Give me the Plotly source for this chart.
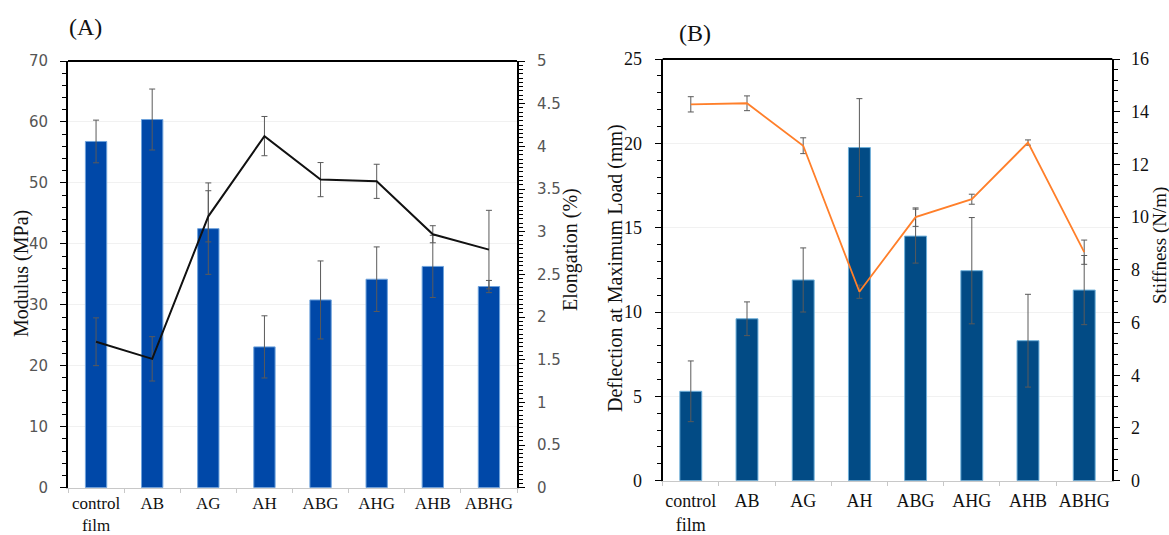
import plotly.graph_objects as go

# Sample groups shared by both panels
categories = ["control<br>film", "AB", "AG", "AH", "ABG", "AHG", "AHB", "ABHG"]

# Panel (A): tensile modulus (bars, left axis) and elongation (line, right axis)
modulus = [56.8, 60.4, 42.5, 23.1, 30.8, 34.2, 36.3, 33.0]
modulus_err = [3.5, 5.0, 7.5, 5.1, 6.4, 5.3, 5.1, 1.0]
elongation = [1.71, 1.51, 3.18, 4.12, 3.61, 3.59, 2.97, 2.79]
elongation_err = [0.28, 0.26, 0.30, 0.23, 0.20, 0.20, 0.10, 0.46]

# Panel (B): deflection at maximum load (bars, left axis) and stiffness (line, right axis)
deflection = [5.3, 9.6, 11.9, 19.75, 14.5, 12.45, 8.3, 11.3]
deflection_err = [1.8, 1.0, 1.9, 2.9, 1.6, 3.15, 2.75, 2.05]
stiffness = [14.28, 14.32, 12.71, 7.17, 10.0, 10.68, 12.83, 8.67]
stiffness_err = [0.29, 0.28, 0.30, 0.25, 0.35, 0.19, 0.10, 0.46]

W, H = 1169, 535
SERIF = "Liberation Serif"
SANS = "DejaVu Sans"


def px_x(v):
    return v / W


def px_y(v):
    return 1 - v / H


err_style = dict(type="data", color="#5a5a5a", thickness=1, width=3)

fig = go.Figure()

fig.add_trace(go.Bar(
    x=categories, y=modulus, xaxis="x", yaxis="y", width=0.38,
    marker=dict(color="#0048A8", line=dict(color="#6FA3DC", width=1)),
    error_y=dict(array=modulus_err, **err_style), showlegend=False,
))
fig.add_trace(go.Scatter(
    x=categories, y=elongation, xaxis="x", yaxis="y2", mode="lines",
    line=dict(color="#111111", width=2),
    error_y=dict(array=elongation_err, **err_style), showlegend=False,
))
fig.add_trace(go.Bar(
    x=categories, y=deflection, xaxis="x2", yaxis="y3", width=0.39,
    marker=dict(color="#024B85", line=dict(color="#6FB0DA", width=1)),
    error_y=dict(array=deflection_err, **err_style), showlegend=False,
))
fig.add_trace(go.Scatter(
    x=categories, y=stiffness, xaxis="x2", yaxis="y4", mode="lines",
    line=dict(color="#FF7F2A", width=1.8),
    error_y=dict(array=stiffness_err, **err_style), showlegend=False,
))


def cat_axis(standoff, size):
    return dict(
        type="category", range=[-0.5, 7.5], showline=True, linecolor="#c8c8c8",
        linewidth=1, ticks="outside", tickson="boundaries", ticklen=4,
        tickcolor="#c8c8c8", showgrid=False, zeroline=False, tickangle=0,
        automargin=False, ticklabelstandoff=standoff,
        tickfont=dict(family=SERIF, size=size, color="#111111"),
    )


def value_axis(rng, dtick, minor, font, side="left", grid=False, standoff=9):
    return dict(
        range=rng, dtick=dtick, side=side, showline=True, linecolor="#000000",
        linewidth=2, ticks="outside", ticklen=6, tickwidth=1, tickcolor="#000000",
        minor=dict(dtick=minor, ticks="outside", ticklen=4, tickcolor="#000000",
                   showgrid=False),
        showgrid=grid, gridcolor="#f1f1f1", gridwidth=1, zeroline=False,
        tickfont=font, ticklabelstandoff=standoff, fixedrange=True,
        automargin=False,
    )


sans_font = dict(family=SANS, size=15, color="#555555")
serif_font = dict(family=SERIF, size=18, color="#111111")

ya_dom = [px_y(487.7), px_y(61)]
yb_dom = [px_y(480.7), px_y(59)]

fig.update_layout(
    width=W, height=H, autosize=False,
    margin=dict(l=0, r=0, t=0, b=0),
    paper_bgcolor="white", plot_bgcolor="white",
    bargap=0.5, showlegend=False,
    xaxis=dict(domain=[px_x(68), px_x(517)], anchor="y", **cat_axis(0, 17)),
    xaxis2=dict(domain=[px_x(662.7), px_x(1112.3)], anchor="y3", **cat_axis(4, 18)),
    yaxis=dict(domain=ya_dom, anchor="x",
               **value_axis([0, 70], 10, 2, sans_font, grid=True)),
    yaxis2=dict(overlaying="y", anchor="x",
                **value_axis([0, 5], 0.5, 0.05, sans_font, side="right")),
    yaxis3=dict(domain=yb_dom, anchor="x2",
                **value_axis([0, 25], 5, 1, serif_font, grid=True)),
    yaxis4=dict(overlaying="y3", anchor="x2",
                **value_axis([0, 16], 2, 0.4, serif_font, side="right",
                             standoff=7)),
)

# Top frame line of each panel
for xr, yr in (("x domain", "y domain"), ("x2 domain", "y3 domain")):
    fig.add_shape(type="line", xref=xr, yref=yr, x0=0, x1=1, y0=1, y1=1,
                  line=dict(color="#000000", width=2))

notes = [
    ("(A)", 85, 27, 0, 24),
    ("(B)", 695, 33, 0, 24),
    ("Modulus (MPa)", 21, 274, -90, 20),
    ("Elongation (%)", 570, 250, -90, 20),
    ("Deflection at Maximum Load (mm)", 615, 268, -90, 20),
    ("Stiffness (N/m)", 1160, 246, -90, 19),
]
for text, x, y, ang, size in notes:
    fig.add_annotation(
        text=text, x=px_x(x), y=px_y(y), xref="paper", yref="paper",
        xanchor="center", yanchor="middle", textangle=ang, showarrow=False,
        font=dict(family=SERIF, size=size, color="#111111"),
    )

fig.write_html("out.html")
